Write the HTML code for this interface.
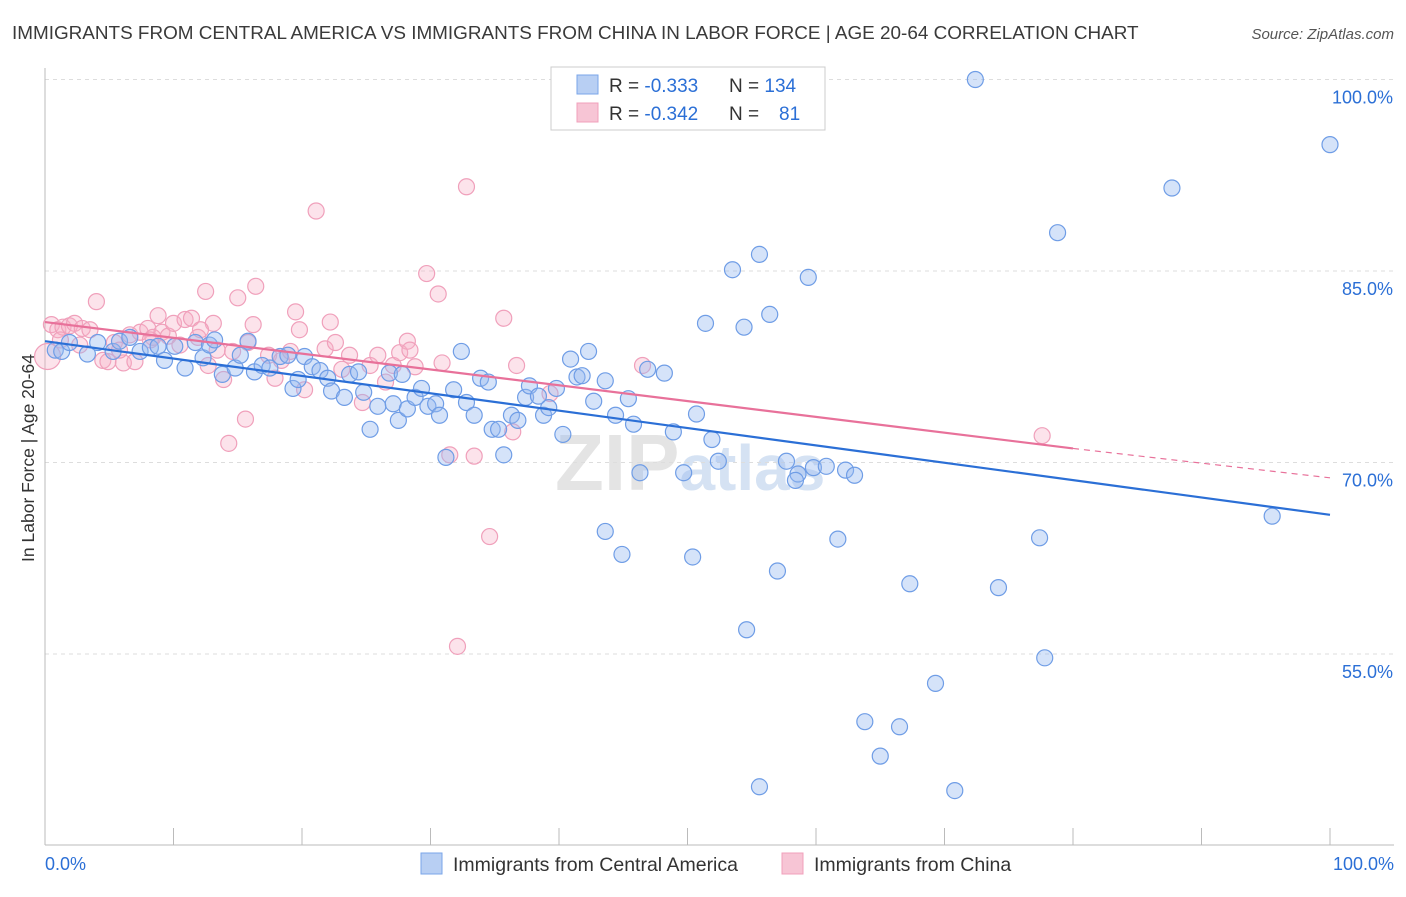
<!DOCTYPE html>
<html><head><meta charset="utf-8"><style>
body{margin:0;background:#fff;font-family:"Liberation Sans",sans-serif;}
svg text{font-family:"Liberation Sans",sans-serif;}
</style></head><body>
<svg id="chart" width="1406" height="892" viewBox="0 0 1406 892">
<text x="12" y="39" font-size="18.9" fill="#3a3a3a">IMMIGRANTS FROM CENTRAL AMERICA VS IMMIGRANTS FROM CHINA IN LABOR FORCE | AGE 20-64 CORRELATION CHART</text>
<text x="1394" y="39" font-size="15" fill="#555" font-style="italic" text-anchor="end">Source: ZipAtlas.com</text>
<text x="555" y="490" font-size="80" fill="#e4e4e4" font-family="Liberation Serif" font-weight="bold">ZIP<tspan font-size="64" fill="#d5e2f3" font-family="Liberation Sans">atlas</tspan></text>
<text transform="translate(34,458) rotate(-90)" font-size="17.5" fill="#333" text-anchor="middle">In Labor Force | Age 20-64</text>
<g id="grid"></g><g id="marks"></g>
<g>
<rect x="551" y="67" width="274" height="63" fill="#fff" stroke="#ccc"/>
<rect x="577" y="75" width="21" height="19" fill="#b8cff3" stroke="#7aa6e8"/>
<rect x="577" y="103" width="21" height="19" fill="#f7c5d5" stroke="#f0a0bb"/>
<text x="609" y="92" font-size="19" fill="#333">R = <tspan fill="#2b6fd6">-0.333</tspan><tspan x="729">N = </tspan><tspan fill="#2b6fd6">134</tspan></text>
<text x="609" y="120" font-size="19" fill="#333">R = <tspan fill="#2b6fd6">-0.342</tspan><tspan x="729">N = </tspan><tspan x="779" fill="#2b6fd6">81</tspan></text>
</g>
<g>
<rect x="421" y="853" width="21" height="21" fill="#b8cff3" stroke="#7aa6e8"/>
<text x="453" y="871" font-size="19.5" fill="#333">Immigrants from Central America</text>
<rect x="782" y="853" width="21" height="21" fill="#f7c5d5" stroke="#f0a0bb"/>
<text x="814" y="871" font-size="19.5" fill="#333">Immigrants from China</text>
</g>
</svg>
<script>
const yTicks=[100,85,70,55];
const xTickLabels=["0.0%","100.0%"];
const blueX=[0.8,1.3,1.9,3.3,4.1,5.3,5.8,6.6,7.4,8.2,8.8,9.3,10.1,10.9,11.7,12.3,12.8,13.2,13.8,14.8,15.2,15.8,16.3,16.9,17.5,18.3,18.9,19.3,19.7,20.2,20.8,21.4,22.0,22.3,23.3,23.7,24.4,24.8,25.3,25.9,26.8,27.1,27.5,27.8,28.2,28.8,29.3,29.8,30.4,30.7,31.2,31.8,32.4,32.8,33.4,33.9,34.5,34.8,35.3,35.7,36.3,36.8,37.4,37.7,38.4,38.8,39.2,39.8,40.3,40.9,41.4,41.8,42.3,42.7,43.6,43.6,44.4,44.9,45.4,45.8,46.3,46.9,48.2,48.9,49.7,50.4,50.7,51.4,51.9,52.4,53.5,54.4,54.6,55.6,55.6,56.4,57.0,57.7,58.6,58.4,59.4,59.8,60.8,61.7,62.3,63.0,63.8,65.0,66.5,67.3,69.3,70.8,72.4,74.2,77.4,77.8,78.8,87.7,95.5,100,47.7,49.3];
const blueY=[78.8,78.7,79.4,78.5,79.4,78.7,79.5,79.8,78.7,79.0,79.1,78.0,79.1,77.4,79.4,78.2,79.2,79.6,76.9,77.4,78.4,79.5,77.1,77.6,77.4,78.3,78.4,75.8,76.5,78.3,77.5,77.2,76.6,75.6,75.1,76.9,77.1,75.5,72.6,74.4,77.0,74.6,73.3,76.9,74.2,75.1,75.8,74.4,74.6,73.7,70.4,75.7,78.7,74.7,73.7,76.6,76.3,72.6,72.6,70.6,73.7,73.3,75.1,76.0,75.2,73.7,74.3,75.8,72.2,78.1,76.7,76.8,78.7,74.8,76.4,64.6,73.7,62.8,75.0,73.0,69.2,77.3,77.0,72.4,69.2,62.6,73.8,80.9,71.8,70.1,85.1,80.6,56.9,86.3,44.6,81.6,61.5,70.1,69.1,68.6,84.5,69.6,69.7,64.0,69.4,69.0,49.7,47.0,49.3,60.5,52.7,44.3,100.0,60.2,64.1,54.7,88.0,91.5,65.8,94.9,100,100];
const pinkX=[0.2,0.5,1.0,1.4,1.9,2.3,2.9,3.5,4.0,4.5,4.9,5.4,6.1,6.6,7.0,7.4,8.0,8.4,8.8,9.1,9.6,10.0,10.5,10.9,11.4,11.9,12.5,12.7,13.1,13.4,13.9,14.3,14.6,15.0,15.6,15.8,16.2,16.4,17.4,17.9,18.4,19.1,19.5,19.8,20.2,21.1,21.8,22.2,22.6,23.1,23.7,24.7,25.3,25.9,26.5,27.1,27.6,28.2,28.4,28.8,29.7,30.6,30.9,31.5,32.1,32.8,33.4,34.6,35.7,36.4,36.7,39.3,46.5,77.6,1.2,2.7,5.8,8.2,12.1];
const pinkY=[78.3,80.8,80.4,80.6,80.7,80.9,80.5,80.4,82.6,78.0,77.9,79.4,77.8,80.0,77.9,80.2,80.5,79.8,81.5,80.2,79.9,80.9,79.2,81.2,81.3,79.8,83.4,77.6,80.9,78.8,76.5,71.5,78.7,82.9,73.4,79.4,80.8,83.8,78.4,76.6,78.0,78.7,81.8,80.4,75.7,89.7,78.9,81.0,79.4,77.3,78.4,74.7,77.6,78.4,76.3,77.6,78.6,79.5,78.8,77.5,84.8,83.2,77.8,70.6,55.6,91.6,70.5,64.2,81.3,72.4,77.6,75.4,77.6,72.1,79.6,79.2,78.8,79.6,80.4];
const blueTrendX=[0,100], blueTrendY=[79.5,65.9];
const pinkTrendX=[0,80,100], pinkTrendY=[81.0,71.1,68.8];

const X0=45,X1=1330,Y100=79.5,PX15=191.5;
const sx=v=>X0+(X1-X0)*v/100;
const sy=v=>Y100+(100-v)*PX15/15;
const NS="http://www.w3.org/2000/svg";
function mk(t,a,p){const e=document.createElementNS(NS,t);for(const k in a)e.setAttribute(k,a[k]);p.appendChild(e);return e;}
const grid=document.getElementById('grid'), marks=document.getElementById('marks');
yTicks.forEach(t=>{
 const l=mk('line',{x1:X0,x2:1394,y1:sy(t),y2:sy(t),stroke:'#ddd','stroke-dasharray':'4,4'},grid);
 
 
 const tx=mk('text',{x:1393,y:sy(t)+24,'font-size':18,fill:'#2b6fd6','text-anchor':'end'},grid);
 tx.textContent=t.toFixed(1)+'%';
 
 
});
const ax=mk('line',{x1:X0,x2:1394,y1:845,y2:845,stroke:'#bbb'},grid);


const ay=mk('line',{x1:X0,x2:X0,y1:68,y2:845,stroke:'#bbb'},grid);


for(let i=0;i<=10;i++){
 const t=mk('line',{x1:sx(i*10),x2:sx(i*10),y1:828,y2:845,stroke:'#bbb'},grid);
 
 
}
[[0,'start',45],[1,'end',1394]].forEach(([i,a,x])=>{
 const t=mk('text',{x:x,y:870,'font-size':18,fill:'#2b6fd6','text-anchor':a},grid);
 t.textContent=xTickLabels[i];
 
 
});
pinkX.forEach((v,i)=>{
 const c=mk('circle',{cx:sx(v),cy:sy(pinkY[i]),r:i==0?13:8,fill:'rgba(245,175,198,0.35)',stroke:'#f0a0bb','stroke-width':1.2},marks);
 
 
});
blueX.forEach((v,i)=>{
 const c=mk('circle',{cx:sx(v),cy:sy(blueY[i]),r:8,fill:'rgba(150,185,240,0.4)',stroke:'#6f9de6','stroke-width':1.2},marks);
 
 
});
const bl=mk('line',{x1:sx(blueTrendX[0]),y1:sy(blueTrendY[0]),x2:sx(blueTrendX[1]),y2:sy(blueTrendY[1]),stroke:'#2b6fd6','stroke-width':2.2},marks);


const pl=mk('line',{x1:sx(pinkTrendX[0]),y1:sy(pinkTrendY[0]),x2:sx(pinkTrendX[1]),y2:sy(pinkTrendY[1]),stroke:'#e8719a','stroke-width':2.2},marks);


const pd=mk('line',{x1:sx(pinkTrendX[1]),y1:sy(pinkTrendY[1]),x2:sx(pinkTrendX[2]),y2:sy(pinkTrendY[2]),stroke:'#e8719a','stroke-width':1.2,'stroke-dasharray':'6,5'},marks);


</script>
</body></html>
